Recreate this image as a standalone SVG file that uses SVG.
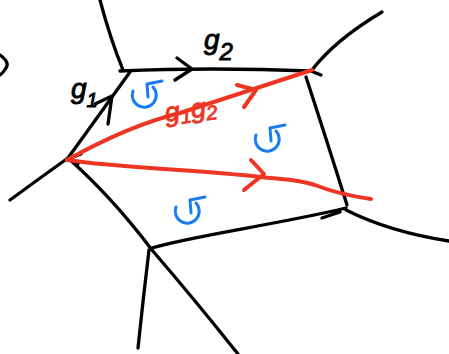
<svg xmlns="http://www.w3.org/2000/svg" width="449" height="354" viewBox="0 0 449 354">
  <style>
    .blk { fill: none; stroke: #000; stroke-width: 3.3; stroke-linecap: round; stroke-linejoin: round; }
    .red { fill: none; stroke: #ee3524; stroke-width: 4; stroke-linecap: round; stroke-linejoin: round; }
    .blu { fill: none; stroke: #1a7cf5; stroke-width: 3; stroke-linecap: round; stroke-linejoin: round; }
    .lbl { font-family: "Liberation Sans", "DejaVu Sans", sans-serif; font-style: italic; stroke-width: 0.9; }
  </style>
  <defs>
    <g id="rot">
      <path class="blu" d="M-12,-5 A12,12 0 1 0 8,-9"/>
      <path class="blu" d="M17,-15 L2,-12 L3,1"/>
    </g>
  </defs>
  <rect width="449" height="354" fill="#fff"/>
  <g id="edges">
    <path class="blk" d="M100,0 Q110,38 123,70"/>
    <path class="blk" d="M120,71 Q210,67 311,71 L321,75"/>
    <path class="blk" d="M177,58 L192,69 L175,80"/>
    <path class="blk" d="M312,70 Q335,40 382,12"/>
    <path class="blk" d="M306,77 Q326,138 347,205"/>
    <path class="blk" d="M152,248 C190,236 280,224 346,208 M322,218 L340,212"/>
    <path class="blk" d="M346,210 Q390,232 449,241"/>
    <path class="blk" d="M68,158 Q112,197 152,250"/>
    <path class="blk" d="M10,200 Q40,178 68,158"/>
    <path class="blk" d="M68,158 L130,72"/>
    <path class="blk" d="M95,104 L112,96 L108,124"/>
    <path class="blk" d="M81,154 L68,159 L78,164"/>
    <path class="blk" d="M149,250 Q143,300 138,348"/>
    <path class="blk" d="M152,250 Q195,300 238,354"/>
    <path class="blk" d="M0,55 Q10,62 6,68 Q3,73 0,75"/>
  </g>
  <g id="red-paths">
    <path class="red" d="M67,160 Q130,125 180,113 L312,70"/>
    <path class="red" d="M237,85 L256,90 L244,107"/>
    <path class="red" d="M67,160 C120,168 200,170 260,177 C290,180 300,180 315,185 C335,193 350,196 371,199"/>
    <path class="red" d="M251,160 L264,174 L244,190"/>
  </g>
  <g id="labels">
    <text class="lbl" x="71" y="98" font-size="28" fill="#000" stroke="#000">g<tspan font-size="20" dy="9">1</tspan></text>
    <text class="lbl" x="204" y="49" font-size="28" fill="#000" stroke="#000">g<tspan font-size="24" dy="11">2</tspan></text>
    <text class="lbl" x="166" y="122" font-size="27" fill="#ee3524" stroke="#ee3524" transform="rotate(-8 166 122)">g<tspan font-size="20" dy="4">1</tspan><tspan font-size="27" dy="-4">g</tspan><tspan font-size="20" dy="4">2</tspan></text>
  </g>
  <g id="rotations">
    <use href="#rot" x="145" y="96"/>
    <use href="#rot" x="268" y="140"/>
    <use href="#rot" x="188" y="212"/>
  </g>
</svg>
